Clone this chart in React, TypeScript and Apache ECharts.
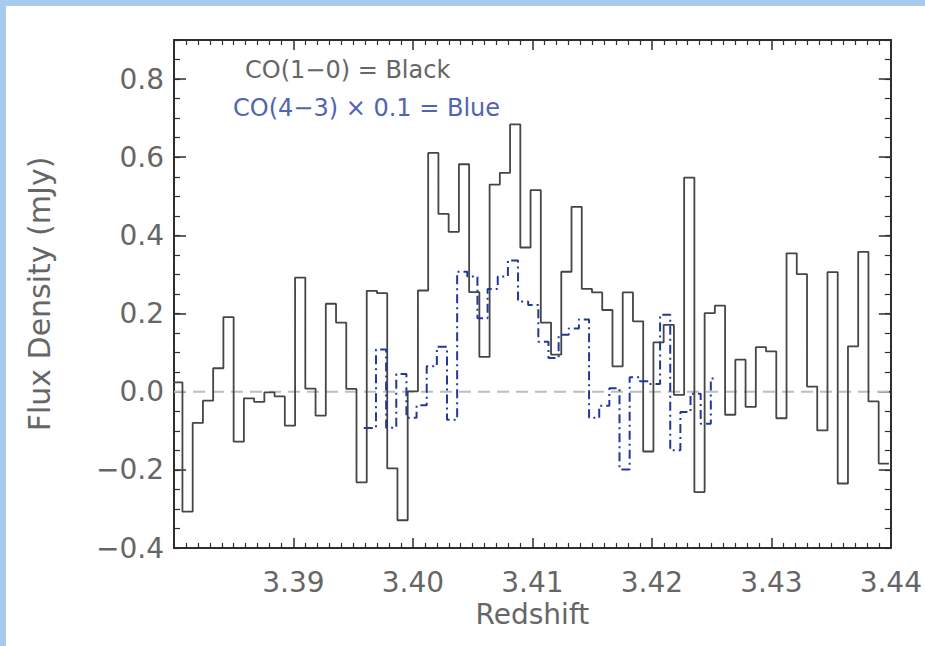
import React, { useEffect, useRef } from 'react';
import * as echarts from 'echarts';

// Axis ranges
const X_MIN = 3.38;
const X_MAX = 3.44;
const Y_MIN = -0.4;
const Y_MAX = 0.9;

// CO(1-0) spectrum (black): channel grid + flux per channel (mJy)
const CO10_FIRST_EDGE = 3.37985;
const CO10_CHANNEL = 0.000857;
const co10Flux = [
  0.024, -0.307, -0.08, -0.023, 0.06, 0.191, -0.128, -0.017, -0.026, -0.002,
  -0.012, -0.087, 0.292, 0.008, -0.061, 0.225, 0.177, 0.007, -0.232, 0.258,
  0.252, -0.196, -0.329, 0.001, 0.259, 0.611, 0.455, 0.409, 0.582, 0.255,
  0.089, 0.53, 0.56, 0.684, 0.369, 0.516, 0.177, 0.095, 0.307, 0.473,
  0.263, 0.254, 0.209, 0.065, 0.254, 0.18, -0.153, 0.126, 0.171, -0.008,
  0.548, -0.257, 0.201, 0.22, -0.059, 0.082, -0.039, 0.114, 0.103, -0.068,
  0.354, 0.301, 0.013, -0.099, 0.306, -0.235, 0.116, 0.358, -0.025, -0.184,
];

// CO(4-3) x 0.1 spectrum (blue): half channel at each end
const CO43_START = 3.395887;
const CO43_FIRST_EDGE = 3.396906;
const CO43_CHANNEL = 0.0008493;
const CO43_END = 3.425282;
const co43Flux = [
  -0.093, 0.108, -0.092, 0.045, -0.067, -0.035, 0.065, 0.115, -0.072, 0.307,
  0.295, 0.188, 0.263, 0.295, 0.336, 0.231, 0.222, 0.128, 0.086, 0.146,
  0.162, 0.185, -0.067, -0.036, 0.009, -0.199, 0.037, 0.027, 0.02, 0.197,
  -0.15, -0.052, -0.005, -0.082, 0.034,
];

const zeroLevel = [0, 0];

const FONT = 'DejaVu Sans';
const TXT = '#666666';
const AX = '#2e2e2e';

function App() {
  const ref = useRef<HTMLDivElement>(null);

  useEffect(() => {
    if (!ref.current) return;
    const chart = echarts.init(ref.current, null, { renderer: 'svg' });

    const blackPts: number[][] = co10Flux.map((v, i) => [CO10_FIRST_EDGE + i * CO10_CHANNEL, v]);
    blackPts.push([CO10_FIRST_EDGE + co10Flux.length * CO10_CHANNEL, co10Flux[co10Flux.length - 1]]);

    const bluePts: number[][] = [[CO43_START, co43Flux[0]]];
    for (let k = 1; k < co43Flux.length; k++) {
      bluePts.push([CO43_FIRST_EDGE + (k - 1) * CO43_CHANNEL, co43Flux[k]]);
    }
    bluePts.push([CO43_END, co43Flux[co43Flux.length - 1]]);

    const zeroPts = [[X_MIN, zeroLevel[0]], [X_MAX, zeroLevel[1]]];

    const xLabel = (v: number) => (v < 3.385 ? '' : v.toFixed(2));
    const yLabel = (v: number) => {
      if (v > 0.85) return '';
      if (Math.abs(v) < 1e-9) return '0.0';
      return (v < 0 ? '\u2212' : '') + Math.abs(v).toFixed(1);
    };

    const baseX = {
      type: 'value',
      min: X_MIN,
      max: X_MAX,
      interval: 0.01,
      splitLine: { show: false },
      minorSplitLine: { show: false },
      axisLine: { show: true, onZero: false, lineStyle: { color: AX, width: 2 } },
      axisTick: { show: true, inside: true, length: 10, lineStyle: { color: AX, width: 1.5 } },
      minorTick: { show: true, splitNumber: 10, length: 5, lineStyle: { color: AX, width: 1.2 } },
    };

    const yMajor = (position: string, labels: boolean) => ({
      type: 'value',
      position,
      min: Y_MIN,
      max: Y_MAX,
      interval: 0.2,
      splitLine: { show: false },
      axisLine: { show: true, onZero: false, lineStyle: { color: AX, width: 2 } },
      axisTick: { show: true, inside: true, length: 12, lineStyle: { color: AX, width: 1.5 } },
      axisLabel: labels
        ? { show: true, formatter: yLabel, fontSize: 28, color: TXT, fontFamily: FONT, margin: 10 }
        : { show: false },
    });

    const yMinor = (position: string) => ({
      type: 'value',
      position,
      min: Y_MIN,
      max: Y_MAX,
      interval: 0.05,
      splitLine: { show: false },
      axisLine: { show: false, onZero: false },
      axisTick: { show: true, inside: true, length: 6, lineStyle: { color: AX, width: 1.2 } },
      axisLabel: { show: false },
    });

    const option: any = {
      animation: false,
      backgroundColor: '#ffffff',
      grid: { left: 174, right: 32, top: 40, bottom: 98, containLabel: false },
      xAxis: [
        {
          ...baseX,
          position: 'bottom',
          axisLabel: { show: true, formatter: xLabel, fontSize: 28, color: TXT, fontFamily: FONT, margin: 20 },
          name: 'Redshift',
          nameLocation: 'middle',
          nameGap: 52,
          nameTextStyle: { fontSize: 28, color: TXT, fontFamily: FONT },
        },
        {
          ...baseX,
          position: 'top',
          axisLabel: { show: false },
        },
      ],
      yAxis: [
        {
          ...yMajor('left', true),
          name: 'Flux Density (mJy)',
          nameLocation: 'middle',
          nameGap: 120,
          nameTextStyle: { fontSize: 30, color: TXT, fontFamily: FONT },
        },
        yMinor('left'),
        yMajor('right', false),
        yMinor('right'),
      ],
      graphic: [
        { type: 'rect', left: 0, top: 0, shape: { width: 925, height: 6 }, style: { fill: '#a7cbeb' }, silent: true },
        { type: 'rect', left: 0, top: 0, shape: { width: 6, height: 646 }, style: { fill: '#a7cbeb' }, silent: true },
        {
          type: 'text', left: 245, top: 58,
          style: { text: 'CO(1\u22120) = Black', fontSize: 24, fill: TXT, fontFamily: FONT },
        },
        {
          type: 'text', left: 233, top: 96,
          style: { text: 'CO(4\u22123) \u00d7 0.1 = Blue', fontSize: 24, fill: '#5064b6', fontFamily: FONT },
        },
      ],
      series: [
        {
          type: 'line',
          data: zeroPts,
          xAxisIndex: 0,
          yAxisIndex: 0,
          symbol: 'none',
          silent: true,
          lineStyle: { color: '#bdbdbd', width: 2, type: [12, 7] },
          z: 1,
        },
        {
          type: 'line',
          step: 'end',
          data: blackPts,
          xAxisIndex: 0,
          yAxisIndex: 0,
          symbol: 'none',
          clip: true,
          lineStyle: { color: '#454545', width: 1.8 },
          z: 3,
        },
        {
          type: 'line',
          step: 'end',
          data: bluePts,
          xAxisIndex: 0,
          yAxisIndex: 0,
          symbol: 'none',
          clip: true,
          lineStyle: { color: '#22389a', width: 2, type: [9, 4, 2, 4] },
          z: 4,
        },
      ],
    };

    chart.setOption(option);
    return () => chart.dispose();
  }, []);

  return (
    <div
      ref={ref}
      style={{ position: 'fixed', left: 0, top: 0, width: 925, height: 646, background: '#ffffff' }}
    />
  );
}

export default App;
